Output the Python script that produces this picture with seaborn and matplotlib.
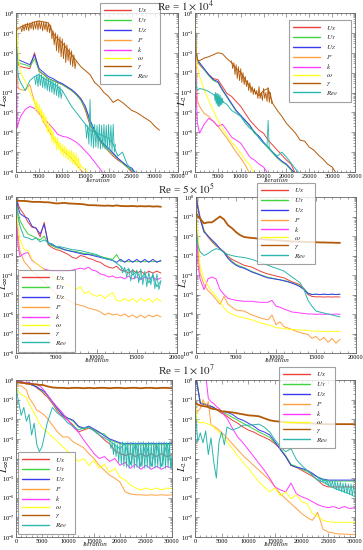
import numpy as np
import matplotlib
matplotlib.use("Agg")
import matplotlib.pyplot as plt
import seaborn as sns
from matplotlib.ticker import LogLocator, MultipleLocator, AutoMinorLocator, NullFormatter

# ---------------- data (log10 of residuals) ----------------
keys = ["ux", "uy", "uz", "p", "k", "om", "gam", "reth"]
labels = [r"$U_X$", r"$U_Y$", r"$U_Z$", r"$P$", r"$k$", r"$\omega$", r"$\gamma$", r"$Re_\theta$"]
colors = ["#e8413c", "#3fd43f", "#3b3bee", "#ffa040", "#ff3cff", "#ffff1a", "#b35a08", "#2ab5ad"]
N = None

# iteration grids
it1 = [0, 250, 500] + list(range(1000, 31001, 1000))
it2 = [0, 250] + list(range(500, 18001, 500))
it3 = [0, 250] + list(range(500, 6001, 500)) + list(range(7000, 30001, 1000))

# Re = 1e4, L_inf
r1l_ux = [-0.5, -2.5, -2.6, -2.7, -2.75, -2.8, -2.0, -2.95, -3.1, -3.3, -3.4, -3.5, -3.6, -3.75, -3.9, -4.1, -4.35,
          -4.9, -5.65, -6.0, -6.4, -6.7, -6.95, -7.2, -7.4, -7.55, -7.75, -8.0, N, N, N, N, N, N]
r1l_uy = [-0.4, -2.4, -2.5, -2.55, -2.6, -2.7, -2.3, -2.9, -3.1, -3.3, -3.4, -3.5, -3.6, -3.75, -3.9, -4.1, -4.4,
          -4.8, -5.5, -6.0, -6.35, -6.65, -6.9, -7.1, -7.35, -7.55, -7.75, -7.9, N, N, N, N, N, N]
r1l_uz = [-0.3, -2.3, -2.35, -2.4, -2.5, -2.6, -2.1, -2.8, -3.0, -3.2, -3.3, -3.45, -3.55, -3.7, -3.85, -4.05, -4.3,
          -4.7, -5.4, -5.9, -6.3, -6.6, -6.8, -7.05, -7.3, -7.5, -7.7, -7.8, -8.1, N, N, N, N, N]
r1l_p = [-0.5, -3.2, -3.8, -3.85, -3.9, -3.6, -4.5, -5.0, -5.5, -5.9, -6.3, -6.6, -6.9, -7.1, -7.3, -7.6, -7.9, -8.1,
         N, N, N, N, N, N, N, N, N, N, N, N, N, N, N, N]
r1l_k = [-1.0, -5.8, -5.55, -5.2, -4.85, -4.7, -4.8, -5.05, -5.3, -5.55, -5.8, -6.1, -6.2, -6.25, -6.35, -6.5, -6.7,
         -6.95, -7.2, -7.5, -7.8, -8.1, N, N, N, N, N, N, N, N, N, N, N, N]
r1l_om = [0.0, -1.0, -2.2, -3.0, -3.45, -4.0, -4.5, -4.9, -5.3, -5.75, -6.2, -6.6, -6.85, -7.0, -7.1, -7.3, -7.7,
          -7.9, -8.1, N, N, N, N, N, N, N, N, N, N, N, N, N, N, N]
r1l_gam = [-1.0, -0.8, -0.8, -0.7, -0.6, -0.55, -0.45, -0.4, -0.45, -0.5, -1.0, -1.3, -1.5, -1.8, -2.1, -2.4, -2.7,
           -2.9, -3.1, -3.5, -3.7, -4.0, -4.2, -4.5, -4.35, -4.5, -4.7, -4.9, -5.0, -5.15, -5.3, -5.45, -5.7, -5.9]
r1l_reth = [-1.0, -2.5, -3.2, -3.5, -3.9, -3.4, -3.2, -3.1, -3.3, -3.4, -3.55, -3.7, -3.9, -4.3, -4.7, -5.0, -5.3,
            -5.6, -5.9, -6.0, -6.1, -6.2, -6.3, -6.6, -7.2, -7.0, -7.6, -7.9, -8.1, N, N, N, N, N]
# noisy stretches
r1l_gam_x = list(range(1000, 13001, 250))
r1l_gam_n = [-0.7, -0.95, -0.6, -0.9, -0.55, -0.85, -0.5, -0.9, -0.5, -0.8, -0.45, -0.85, -0.45, -0.8, -0.4, -0.85,
             -0.4, -0.8, -0.42, -0.9, -0.45, -0.85, -0.45, -0.95, -0.5, -1.0, -0.6, -1.3, -0.9, -1.6, -1.0, -1.9,
             -1.1, -2.0, -1.2, -2.2, -1.3, -2.3, -1.5, -2.5, -1.6, -2.4, -1.8, -2.6, -1.9, -2.7, -2.1, -2.8, -2.4]
r1l_om_x = list(range(4000, 14001, 250))
r1l_om_n = [-4.3, -4.9, -4.4, -5.1, -4.6, -5.2, -4.8, -5.5, -5.0, -5.6, -5.2, -6.0, -5.5, -6.1, -5.7, -6.5, -5.9,
            -6.6, -6.2, -6.9, -6.3, -6.9, -6.5, -7.1, -6.6, -7.2, -6.7, -7.3, -6.8, -7.4, -6.9, -7.5, -6.9, -7.6,
            -7.0, -7.7, -7.1, -7.8, -7.3, -7.9, -7.6]
r1l_reth_xa = list(range(4000, 10001, 250))
r1l_reth_na = [-3.2, -3.6, -3.1, -3.7, -3.05, -3.65, -3.1, -3.75, -3.2, -3.8, -3.25, -3.9, -3.3, -3.95, -3.35, -4.0,
               -3.4, -4.1, -3.5, -4.15, -3.55, -4.25, -3.7, -4.3, -3.9]
r1l_reth_xb = list(range(15000, 21501, 250))
r1l_reth_nb = [-5.6, -6.3, -5.65, -6.6, -4.35, -6.7, -5.6, -6.8, -5.6, -6.75, -5.65, -6.8, -5.6, -6.85, -5.65, -6.8,
               -5.6, -6.85, -5.65, -6.9, -5.6, -6.9, -5.65, -6.95, -5.6, -7.0, -6.6]

# Re = 1e4, L_2
r1r_ux = [0.0, -2.0, -2.45, -2.6, -2.85, -3.1, -3.3, -3.35, -3.7, -4.05, -4.2, -4.45, -4.7, -5.05, -5.4, -5.65, -5.9,
          -6.05, -6.4, -6.65, -6.9, -7.15, -7.4, -7.6, -8.1, N, N, N, N, N, N, N, N, N]
r1r_uy = [0.0, -1.95, -2.4, -2.55, -2.85, -3.15, -3.4, -3.5, -3.9, -4.25, -4.6, -4.95, -5.2, -5.45, -5.7, -6.05, -6.25,
          -6.55, -6.8, -7.05, -7.3, -7.5, -7.65, -7.9, -8.1, N, N, N, N, N, N, N, N, N]
r1r_uz = [0.0, -1.9, -2.35, -2.5, -2.8, -3.1, -3.35, -3.45, -3.85, -4.2, -4.55, -4.9, -5.15, -5.4, -5.65, -6.0, -6.2,
          -6.5, -6.75, -7.0, -7.25, -7.45, -7.6, -7.85, -8.1, N, N, N, N, N, N, N, N, N]
r1r_p = [0.0, -3.0, -4.4, -4.7, -5.05, -5.2, -5.45, -5.7, -6.0, -6.3, -6.65, -7.0, -7.3, -7.65, -8.1,
         N, N, N, N, N, N, N, N, N, N, N, N, N, N, N, N, N, N, N]
r1r_k = [-0.5, -4.0, -5.5, -6.05, -5.6, -5.3, -5.45, -5.7, -5.6, -5.9, -6.25, -6.4, -6.55, -6.9, -7.25, -7.4, -7.6,
         -7.75, -8.1, N, N, N, N, N, N, N, N, N, N, N, N, N, N, N]
r1r_om = [-0.3, -1.8, -2.7, -3.2, -3.85, -4.4, -4.9, -5.4, -5.8, -6.15, -6.5, -6.75, -7.05, -7.4, -7.65, -8.1,
          N, N, N, N, N, N, N, N, N, N, N, N, N, N, N, N, N, N]
r1r_gam = [-1.0, -2.0, -2.35, -2.4, -2.27, -2.2, -2.1, -2.0, -2.05, -2.3, -2.5, -2.8, -3.0, -3.35, -3.7, -3.95, -4.15,
           -3.9, -3.8, -4.55, -4.9, -5.2, -5.55, -5.8, -6.05, -6.4, -6.45, -6.75, -6.9, -7.15, -7.35, -7.6, -7.75, -8.1]
r1r_reth = [-2.8, -3.6, -3.9, -3.8, -3.85, -3.95, -4.1, -4.3, -4.45, -4.6, -4.9, -5.05, -5.2, -5.55, -5.8, -5.95, -6.3,
            -6.55, -6.75, -7.0, -7.2, -7.0, -7.25, -7.55, -7.85, -8.1, N, N, N, N, N, N, N, N]
r1r_gam_x = list(range(8000, 17001, 250))
r1r_gam_n = [-2.4, -2.8, -2.5, -3.1, -2.6, -3.3, -2.7, -3.4, -2.8, -3.5, -3.0, -3.6, -3.2, -3.7, -3.4, -3.9, -3.5,
             -4.0, -3.7, -4.1, -3.8, -4.1, -3.9, -4.3, -3.7, -4.3, -4.0, -4.4, -3.8, -4.3, -4.0, -4.45, -3.75, -4.5,
             -4.0, -4.55, -4.5]
r1r_reth_xa = list(range(4250, 6251, 125))
r1r_reth_na = [-4.1, -4.4, -4.0, -4.55, -4.05, -4.65, -4.05, -4.7, -4.1, -4.7, -4.15, -4.65, -4.25, -4.6, -4.3, -4.5,
               -4.45]
r1r_reth_xb = [15750, 16000, 16250]
r1r_reth_nb = [-6.7, -5.4, -6.8]

# Re = 5e5, L_inf
r2l_ux = [0.0, -0.35, -0.6, -0.9, -1.3, -1.55, -1.6, -2.05, -1.3, -2.45, -2.6, -2.7, -2.75, -2.85, -2.95, -3.1,
          -3.15, -3.0, -3.05, -3.15, -3.2, -3.3, -3.35, -3.5, -3.6, -3.65, -3.55, -3.75, -3.8, -3.9, -3.75, -3.9,
          -3.8, -3.95, -3.8, -3.9, -3.8, -3.9]
r2l_uy = [0.0, -0.8, -1.2, -1.6, -1.9, -2.0, -2.1, -2.2, -2.0, -2.4, -2.5, -2.6, -2.65, -2.7, -2.75, -2.78, -2.8,
          -2.85, -2.9, -2.92, -2.95, -3.0, -3.05, -3.1, -3.15, -3.2, -2.95, -3.3, -3.3, -3.32, -3.3, -3.32, -3.3,
          -3.32, -3.3, -3.32, -3.3, -3.3]
r2l_uz = [0.0, -0.5, -0.85, -1.0, -1.1, -1.5, -1.6, -1.9, -1.4, -2.35, -2.45, -2.55, -2.6, -2.7, -2.75, -2.8, -2.85,
          -2.9, -2.95, -2.95, -3.0, -3.05, -3.1, -3.15, -3.2, -3.25, -3.35, -3.2, -3.35, -3.2, -3.35, -3.2, -3.35,
          -3.2, -3.35, -3.2, -3.35, -3.25]
r2l_p = [-0.6, -2.0, -2.8, -3.3, -3.55, -3.8, -3.95, -4.2, -4.35, -4.6, -4.75, -5.0, -5.1, -5.2, -5.3, -5.4, -5.5,
         -5.55, -5.6, -5.7, -5.75, -5.8, -5.9, -6.05, -5.95, -6.05, -6.0, -6.1, -6.0, -6.15, -6.05, -6.2, -6.05,
         -6.2, -6.05, -6.15, -6.05, -6.15]
r2l_k = [-0.5, -2.5, -3.05, -2.9, -2.85, -3.25, -3.4, -3.55, -3.7, -3.75, -3.8, -3.8, -3.8, -3.8, -3.8, -3.75, -3.7,
         -3.65, -3.7, -3.6, -3.75, -3.8, -3.95, -4.0, -4.1, -4.05, -4.15, -4.1, -4.2, -4.05, -4.2, -4.1, -4.25,
         -4.1, -4.2, -4.1, -4.25, -4.15]
r2l_om = [-0.2, -1.5, -2.2, -2.7, -2.75, -3.2, -3.4, -3.55, -3.75, -3.9, -4.05, -4.2, -4.3, -4.4, -4.5, -4.6, -4.75,
          -4.6, -4.95, -4.85, -5.0, -5.1, -5.0, -5.2, -5.05, -4.9, -5.3, -5.35, -5.2, -5.35, -5.2, -5.4, -5.2,
          -5.35, -5.2, -5.4, -5.2, -5.35]
r2l_gam = [-0.15, -0.2, -0.2, -0.2, -0.22, -0.25, -0.25, -0.25, -0.27, -0.27, -0.3, -0.33, -0.32, -0.3, -0.33, -0.34,
           -0.35, -0.36, -0.38, -0.42, -0.42, -0.43, -0.44, -0.45, -0.44, -0.46, -0.43, -0.46, -0.47, -0.47, -0.46,
           -0.48, -0.47, -0.48, -0.47, -0.49, -0.48, -0.5]
r2l_reth = [-0.3, -1.0, -1.5, -2.05, -2.1, -2.2, -2.1, -2.3, -2.2, -2.35, -2.4, -2.55, -2.55, -2.6, -2.65, -2.7,
            -2.72, -2.75, -2.8, -2.85, -2.9, -2.95, -3.05, -3.15, -3.2, -3.25, -3.4, -3.55, -3.8, -3.7, -4.0, -3.8,
            -4.2, -3.9, -4.4, -4.0, -4.6, -4.3]
r2l_reth_x = list(range(13000, 18001, 250))
r2l_reth_n = [-3.55, -3.9, -3.6, -4.1, -3.65, -4.3, -3.7, -4.2, -3.75, -4.4, -3.7, -4.5, -3.8, -4.6, -3.85, -4.5,
              -3.9, -4.7, -3.95, -4.75, -4.3]

# Re = 5e5, L_2
r2r_ux = [0.0, -0.5, -1.0, -1.7, -2.05, -2.3, -2.5, -2.65, -2.8, -3.05, -3.2, -3.3, -3.4, -3.5, -3.55, -3.6, -3.7,
          -3.8, -3.88, -3.95, -4.0, -4.05, -4.1, -4.15, -4.25, -4.35, -4.42, -4.5, -4.7, -5.0, -5.1, -5.12, -5.12,
          -5.13, -5.12, -5.13, -5.12, -5.13]
r2r_uy = [0.0, -0.6, -1.1, -1.75, -2.0, -2.25, -2.45, -2.65, -2.85, -3.1, -3.3, -3.45, -3.55, -3.62, -3.72, -3.82,
          -3.9, -3.98, -4.05, -4.12, -4.16, -4.2, -4.24, -4.28, -4.33, -4.4, -4.48, -4.58, -4.72, -4.93, -5.0, -5.0,
          -5.0, -5.0, -5.0, -5.0, -5.0, -5.0]
r2r_uz = [0.0, -0.6, -1.1, -1.8, -2.0, -2.2, -2.4, -2.65, -2.85, -3.15, -3.35, -3.5, -3.6, -3.65, -3.75, -3.85,
          -3.92, -4.0, -4.08, -4.15, -4.18, -4.22, -4.25, -4.3, -4.35, -4.42, -4.5, -4.6, -4.75, -4.95, -5.0, -4.98,
          -5.0, -4.98, -5.0, -4.98, -5.0, -4.98]
r2r_p = [-1.0, -2.5, -3.9, -4.5, -4.8, -5.0, -5.25, -5.5, -5.1, -5.5, -5.65, -5.8, -5.82, -5.85, -5.95, -6.05, -6.12,
         -6.2, -6.25, -6.3, -6.05, -6.55, -6.4, -6.65, -6.72, -6.8, -6.88, -6.95, -7.0, -7.05, -7.25, -7.15, -7.35,
         -7.2, -7.45, -7.25, -7.5, -7.3]
r2r_k = [-0.5, -3.5, -4.2, -4.75, -4.2, -4.1, -4.2, -4.75, -5.0, -5.2, -5.25, -5.3, -5.32, -5.35, -5.35, -5.35,
         -5.38, -5.4, -5.4, -5.4, -5.3, -5.6, -5.65, -5.75, -5.82, -5.9, -5.92, -5.95, -5.97, -6.0, -6.0, -6.02,
         -6.0, -6.02, -6.0, -6.02, -6.0, -6.02]
r2r_om = [-0.5, -2.0, -3.5, -4.2, -4.55, -4.85, -5.1, -5.35, -5.7, -5.9, -6.0, -6.1, -6.15, -6.2, -6.25, -6.3, -6.38,
          -6.45, -6.5, -6.55, -6.62, -6.7, -6.72, -6.75, -6.78, -6.8, -6.8, -6.82, -6.83, -6.85, -6.87, -6.88,
          -6.88, -6.9, -6.88, -6.9, -6.88, -6.9]
r2r_gam = [-0.8, -1.0, -1.1, -1.35, -1.3, -1.3, -1.15, -1.0, -1.15, -1.45, -1.6, -1.8, -1.95, -2.05, -2.08, -2.1,
           -2.12, -2.15, -2.17, -2.2, -2.2, -2.22, -2.23, -2.25, -2.26, -2.28, -2.28, -2.3, -2.3, -2.31, -2.32,
           -2.32, -2.33, -2.33, -2.34, -2.34, -2.35, -2.35]
r2r_reth = [-1.5, -2.5, -2.8, -3.0, -2.9, -2.75, -2.65, -2.7, -2.85, -2.95, -3.0, -3.05, -3.08, -3.1, -3.15, -3.2,
            -3.28, -3.35, -3.42, -3.5, -3.58, -3.65, -3.72, -3.8, -3.95, -4.1, -4.25, -4.4, -4.75, -5.3, -5.6,
            -5.85, -5.9, -5.95, -6.0, -6.05, -6.1, -6.15]

# Re = 1e7, L_inf
r3l_ux = [0.0, -0.05, -0.05, -0.08, -0.12, -0.15, -0.2, -0.25, -0.3, -0.4, -0.5, -0.6, -0.75, -0.85, -1.2, -1.6,
          -1.85, -2.05, -2.3, -2.65, -2.55, -2.45, -2.55, -2.8, -3.05, -3.25, -3.6, -3.75, -3.85, -3.75, -3.9,
          -3.75, -3.9, -3.75, -3.9, -3.75, -3.9, -3.8]
r3l_uy = [0.0, -0.05, -0.08, -0.1, -0.15, -0.15, -0.2, -0.25, -0.3, -0.35, -0.45, -0.55, -0.65, -0.8, -1.15, -1.5,
          -1.75, -1.95, -2.1, -2.4, -2.5, -2.4, -2.55, -2.7, -2.75, -3.05, -3.15, -3.25, -3.3, -3.3, -3.3, -3.3,
          -3.3, -3.3, -3.3, -3.3, -3.3, -3.3]
r3l_uz = [0.0, -0.05, -0.1, -0.1, -0.15, -0.2, -0.1, -0.25, -0.3, -0.35, -0.45, -0.5, -0.6, -0.75, -1.1, -1.45,
          -1.8, -1.95, -2.05, -2.35, -2.45, -2.35, -2.5, -2.65, -2.85, -3.0, -3.1, -3.2, -3.25, -3.22, -3.25, -3.22,
          -3.25, -3.22, -3.25, -3.22, -3.25, -3.22]
r3l_p = [-0.2, -0.3, -0.3, -0.3, -0.4, -0.5, -0.9, -1.1, -1.3, -1.55, -1.6, -1.7, -1.8, -1.95, -2.3, -2.65, -2.9,
         -2.9, -3.15, -3.3, -3.45, -3.75, -4.0, -4.35, -4.6, -4.85, -5.0, -5.2, -5.7, -5.8, -5.85, -5.85, -5.87,
         -5.85, -5.87, -5.85, -5.87, -5.85]
r3l_k = [0.0, -0.05, -0.08, -0.1, -0.12, -0.15, -0.15, -0.18, -0.2, -0.25, -0.3, -0.4, -0.55, -0.75, -1.1, -1.4,
         -1.7, -2.05, -2.4, -2.65, -3.05, -3.4, -3.75, -4.0, -3.9, -4.15, -4.0, -4.35, -4.2, -4.5, -4.3, -4.55,
         -4.35, -4.55, -4.4, -4.55, -4.4, -4.5]
r3l_om = [-0.3, -0.5, -0.6, -0.75, -0.8, -0.9, -1.2, -1.45, -1.7, -1.95, -2.2, -2.4, -2.55, -2.65, -2.9, -3.15,
          -3.4, -3.65, -3.9, -4.15, -4.0, -4.35, -4.1, -4.5, -4.3, -4.7, -4.5, -4.95, -5.1, -5.35, -5.5, -5.6,
          -5.5, -5.6, -5.5, -5.6, -5.5, -5.55]
r3l_gam = [0.0, -0.1, -0.12, -0.15, -0.15, -0.18, -0.2, -0.2, -0.22, -0.22, -0.25, -0.25, -0.28, -0.32, -0.38, -0.4,
           -0.4, -0.42, -0.4, -0.4, -0.42, -0.4, -0.42, -0.4, -0.4, -0.42, -0.4, -0.4, -0.42, -0.4, -0.4, -0.42,
           -0.4, -0.4, -0.42, -0.4, -0.4, -0.42]
r3l_reth = [-0.2, -0.8, -1.1, -1.8, -1.4, -2.1, -1.75, -2.8, -2.2, -3.3, -3.65, -3.4, -2.8, -2.2, -1.4, -1.7, -1.9,
            -2.2, -2.35, -2.55, -2.45, -2.4, -2.6, -2.8, -2.95, -3.1, -3.3, -3.5, -3.2, -4.3, -3.2, -4.4, -3.2,
            -4.4, -3.2, -4.4, -3.2, -4.5]
r3l_reth_x = list(range(18000, 30001, 250))
r3l_reth_n = [-3.1, -3.5, -3.2, -3.8, -3.2, -3.9, -3.3, -4.2, -3.2, -4.3, -3.15, -4.4, -3.2, -4.45, -3.15, -4.5,
              -3.2, -4.4, -3.15, -4.5, -3.2, -4.45, -3.15, -4.5, -3.2, -4.4, -3.15, -4.5, -3.2, -4.45, -3.15, -4.5,
              -3.2, -4.4, -3.15, -4.5, -3.2, -4.45, -3.15, -4.5, -3.2, -4.4, -3.15, -4.5, -3.2, -4.45, -3.15, -4.5,
              -3.8]

# Re = 1e7, L_2
r3r_ux = [0.0, 0.0, -0.3, -1.2, -1.22, -1.25, -1.3, -1.35, -1.4, -1.5, -1.6, -1.7, -1.75, -1.85, -2.05, -2.2, -2.4,
          -2.55, -2.65, -2.8, -2.92, -3.05, -3.25, -3.5, -3.9, -4.35, -4.45, -4.6, -4.75, -4.9, -5.1, -5.35, -5.45,
          -5.45, -5.45, -5.45, -5.45, -5.45]
r3r_uy = [0.0, 0.0, -0.35, -1.15, -1.2, -1.22, -1.28, -1.33, -1.4, -1.48, -1.55, -1.62, -1.68, -1.75, -1.9, -2.05,
          -2.2, -2.35, -2.5, -2.65, -2.78, -2.92, -3.2, -3.5, -3.85, -4.3, -4.4, -4.55, -4.65, -4.8, -4.95, -5.1,
          -5.15, -5.15, -5.15, -5.15, -5.15, -5.15]
r3r_uz = [0.0, 0.0, -0.4, -1.2, -1.22, -1.25, -1.3, -1.35, -1.4, -1.5, -1.55, -1.6, -1.62, -1.65, -1.75, -1.95,
          -2.05, -2.2, -2.35, -2.55, -2.65, -2.8, -3.15, -3.55, -3.9, -4.35, -4.45, -4.5, -4.6, -4.75, -4.95, -5.05,
          -5.1, -5.1, -5.1, -5.1, -5.1, -5.1]
r3r_p = [-0.8, -1.7, -1.6, -1.45, -1.0, -1.35, -1.1, -2.3, -2.35, -2.45, -2.55, -2.7, -2.8, -2.95, -3.25, -3.55,
         -3.85, -4.1, -4.35, -4.6, -4.85, -5.1, -5.45, -5.8, -6.05, -6.3, -6.55, -6.8, -7.0, -7.15, -6.75, -7.6,
         -7.75, -7.8, -7.85, -7.85, -7.87, -7.87]
r3r_k = [0.0, 0.3, 0.3, 0.3, 0.3, 0.3, -0.95, -1.1, -1.2, -1.35, -1.45, -1.6, -1.8, -1.95, -2.45, -2.9, -3.2, -3.55,
         -3.9, -4.25, -4.6, -5.0, -5.45, -5.6, -5.7, -5.25, -5.8, -5.95, -6.05, -6.2, -6.35, -6.45, -6.5, -6.45,
         -6.55, -6.45, -6.55, -6.5]
r3r_om = [-1.0, -1.8, -2.1, -2.2, -2.15, -2.2, -2.25, -2.3, -2.4, -2.55, -2.65, -2.8, -2.95, -3.15, -3.5, -3.85,
          -4.2, -4.5, -4.85, -5.2, -5.45, -5.7, -5.5, -5.9, -5.7, -6.05, -5.85, -6.2, -6.3, -6.8, -6.95, -7.15,
          -7.22, -7.25, -7.25, -7.25, -7.25, -7.25]
r3r_gam = [-1.15, -1.2, -1.25, -1.3, -1.33, -1.35, -1.38, -1.45, -1.48, -1.5, -1.55, -1.6, -1.6, -1.62, -1.65, -1.7,
           -1.75, -1.8, -1.82, -1.85, -1.95, -2.05, -2.1, -2.12, -2.15, -2.17, -2.18, -2.2, -2.21, -2.22, -2.23,
           -2.25, -2.25, -2.25, -2.25, -2.25, -2.25, -2.25]
r3r_reth = [-1.45, -2.2, -3.15, -2.7, -3.2, -2.6, -3.8, -2.95, -4.15, -5.0, -3.15, -2.65, -3.3, -2.4, -2.55, -2.45,
            -2.3, -2.3, -2.28, -2.25, -2.4, -2.65, -3.05, -3.4, -3.65, -3.5, -4.05, -4.35, -4.6, -4.85, -5.1, -5.2,
            -5.35, -5.5, -5.6, -5.7, -5.8, -5.95]
r3r_reth_x = list(range(23000, 30001, 250))
r3r_reth_n = [-5.1, -4.95, -5.15, -5.0, -5.2, -5.05, -5.3, -5.1, -5.4, -5.1, -5.45, -5.15, -5.5, -5.15, -5.6, -5.2,
              -5.65, -5.2, -5.7, -5.25, -5.75, -5.25, -5.8, -5.3, -5.85, -5.3, -5.9, -5.35, -5.95]

titles = [r"Re = $\mathit{1\times10^{4}}$", r"Re = $\mathit{5\times10^{5}}$", r"Re = $\mathit{1\times10^{7}}$"]

# ---------------- figure ----------------
sns.set_style("ticks")
plt.rcParams["font.family"] = ["Liberation Serif", "DejaVu Serif"]
plt.rcParams["mathtext.fontset"] = "stix"

W, H = 363, 550
fig = plt.figure(figsize=(W / 100, H / 100), dpi=100)


def px_axes(x0, x1, y0, y1):
    return fig.add_axes([x0 / W, 1 - y1 / H, (x1 - x0) / W, (y1 - y0) / H])


def draw(ax, it, series, extras, xmax, xstep, ylab, leg_box, thick=()):
    for key, lab, col, vals in zip(keys, labels, colors, series):
        lw = 1.3 if key in thick else 0.7
        y = np.array(vals, dtype=float)
        sns.lineplot(x=it, y=10 ** y, ax=ax, color=col, lw=lw, label=lab,
                     estimator=None, sort=False)
        for ex, ey in extras.get(key, []):
            sns.lineplot(x=ex, y=10 ** np.array(ey, dtype=float), ax=ax, color=col,
                         lw=0.6, estimator=None, sort=False)
    ax.set_yscale("log")
    ax.set_ylim(1e-8, 1)
    ax.set_xlim(0, xmax)
    ax.xaxis.set_major_locator(MultipleLocator(xstep))
    ax.xaxis.set_minor_locator(AutoMinorLocator(5))
    ax.yaxis.set_major_locator(LogLocator(base=10, numticks=20))
    ax.yaxis.set_minor_locator(LogLocator(base=10, subs=np.arange(2, 10), numticks=20))
    ax.yaxis.set_minor_formatter(NullFormatter())
    ax.tick_params(which="both", direction="in", top=True, right=True, colors="#555555",
                   labelcolor="black", labelsize=4.5, pad=1.2, width=0.4)
    ax.tick_params(which="major", length=3)
    ax.tick_params(which="minor", length=1.5)
    for s in ax.spines.values():
        s.set_color("#666666")
        s.set_linewidth(0.6)
    ax.set_xlabel("Iteration", fontsize=5, style="italic", labelpad=0)
    ax.xaxis.set_label_coords(0.5, -0.035)
    ax.set_ylabel(ylab, fontsize=7.5, labelpad=0)
    ax.yaxis.set_label_coords(-0.035, 0.45)
    h, l = ax.get_legend_handles_labels()
    leg = ax.legend(h, l, loc="upper left", bbox_to_anchor=leg_box, mode="expand",
                    fontsize=5.2, handlelength=3.8, handletextpad=0.8, labelspacing=0.13,
                    borderpad=0.5, borderaxespad=0, frameon=True, fancybox=False)
    leg.get_frame().set_edgecolor("#8a8a8a")
    leg.get_frame().set_linewidth(0.8)
    for ln in leg.get_lines():
        ln.set_linewidth(1.0)


# row 1
ax = px_axes(16, 178, 13, 172)
draw(ax, it1, [r1l_ux, r1l_uy, r1l_uz, r1l_p, r1l_k, r1l_om, r1l_gam, r1l_reth],
     {"gam": [(r1l_gam_x, r1l_gam_n)], "om": [(r1l_om_x, r1l_om_n)],
      "reth": [(r1l_reth_xa, r1l_reth_na), (r1l_reth_xb, r1l_reth_nb)]},
     35000, 5000, r"$L_\infty$", (0.519, 0.45, 0.37, 0.613))
ax = px_axes(195, 355, 13, 172)
draw(ax, it1, [r1r_ux, r1r_uy, r1r_uz, r1r_p, r1r_k, r1r_om, r1r_gam, r1r_reth],
     {"gam": [(r1r_gam_x, r1r_gam_n)], "reth": [(r1r_reth_xa, r1r_reth_na), (r1r_reth_xb, r1r_reth_nb)]},
     35000, 5000, r"$L_2$", (0.5875, 0.45, 0.39, 0.506))

# row 2
ax = px_axes(16, 177, 197, 353)
draw(ax, it2, [r2l_ux, r2l_uy, r2l_uz, r2l_p, r2l_k, r2l_om, r2l_gam, r2l_reth],
     {"reth": [(r2l_reth_x, r2l_reth_n)]},
     20000, 5000, r"$L_\infty$", (0.012, 0.0, 0.354, 0.532), thick=("gam",))
ax = px_axes(196, 356, 197, 353)
draw(ax, it2, [r2r_ux, r2r_uy, r2r_uz, r2r_p, r2r_k, r2r_om, r2r_gam, r2r_reth],
     {}, 20000, 5000, r"$L_2$", (0.381, 0.487, 0.363, 0.603), thick=("gam",))

# row 3
ax = px_axes(16, 172, 380, 537)
draw(ax, it3, [r3l_ux, r3l_uy, r3l_uz, r3l_p, r3l_k, r3l_om, r3l_gam, r3l_reth],
     {"reth": [(r3l_reth_x, r3l_reth_n)]},
     30000, 5000, r"$L_\infty$", (0.013, 0.0, 0.365, 0.541), thick=("gam",))
ax = px_axes(195, 355, 380, 537)
draw(ax, it3, [r3r_ux, r3r_uy, r3r_uz, r3r_p, r3r_k, r3r_om, r3r_gam, r3r_reth],
     {"reth": [(r3r_reth_x, r3r_reth_n)]},
     30000, 5000, r"$L_2$", (0.525, 0.567, 0.35, 0.516), thick=("gam",))

for t, yp in zip(titles, [6, 189, 370]):
    fig.text(186 / W, 1 - yp / H, t, ha="center", va="center", fontsize=8)

fig.savefig("out.png", dpi=100)
